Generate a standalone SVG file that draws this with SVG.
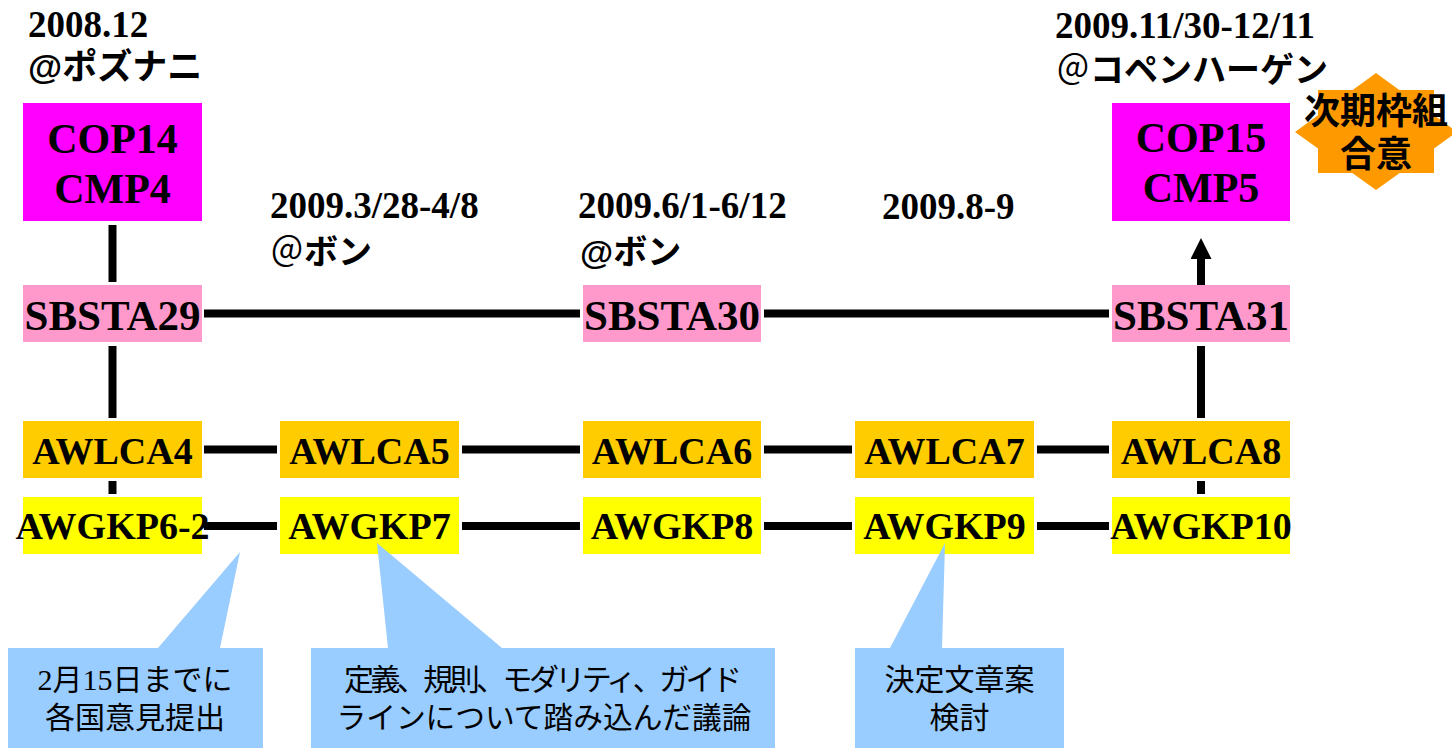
<svg xmlns="http://www.w3.org/2000/svg" width="1452" height="748" viewBox="0 0 1452 748">
<style>
.bg{fill:#ffffff}
.cop{fill:#ff00ff}
.sb{fill:#ff99cc}
.aw{fill:#ffcc00}
.kp{fill:#ffff00}
.co{fill:#99ccff}
.star{fill:#ff9900}
.ln{stroke:#000;stroke-width:8;fill:none}
.tn{font-family:"Liberation Serif","Times New Roman",serif;font-weight:bold;fill:#000;text-anchor:middle}
.dt{font-family:"Liberation Serif","Times New Roman",serif;font-weight:bold;font-size:37px;fill:#000}
.jp{font-family:"Liberation Sans","Noto Sans CJK JP",sans-serif;font-weight:bold;fill:#000}
.cj{font-family:"Liberation Serif","Noto Sans CJK JP",sans-serif;font-size:30px;fill:#000;text-anchor:middle}
.thin{font-weight:normal}
</style>
<defs>
<marker id="ah" viewBox="0 0 21 21" refX="0" refY="10.5" markerWidth="21" markerHeight="21" markerUnits="userSpaceOnUse" orient="auto">
<path d="M0,0 L21,10.5 L0,21 Z" fill="#000"/>
</marker>
</defs>
<rect class="bg" x="0" y="0" width="1452" height="748"/>

<g id="labels">
<text class="dt" x="28" y="37">2008.12</text>
<text class="jp" x="28" y="79" font-size="35">@ポズナニ</text>
<text class="dt" x="270" y="218">2009.3/28-4/8</text>
<text class="jp" x="270" y="264" font-size="34"><tspan class="thin">＠</tspan>ボン</text>
<text class="dt" x="578" y="218">2009.6/1-6/12</text>
<text class="jp" x="580" y="264" font-size="34">@ボン</text>
<text class="dt" x="882" y="219">2009.8-9</text>
<text class="dt" x="1055" y="38">2009.11/30-12/11</text>
<text class="jp" x="1056" y="82" font-size="34"><tspan class="thin">＠</tspan>コペンハーゲン</text>
</g>

<g id="connectors">
<line class="ln" x1="112.5" y1="225" x2="112.5" y2="282"/>
<line class="ln" x1="112.5" y1="346" x2="112.5" y2="418"/>
<line class="ln" x1="112.5" y1="481" x2="112.5" y2="494"/>
<line class="ln" x1="204" y1="313.5" x2="580" y2="313.5"/>
<line class="ln" x1="764" y1="313.5" x2="1109" y2="313.5"/>
<line class="ln" x1="204" y1="449.5" x2="277" y2="449.5"/>
<line class="ln" x1="462" y1="449.5" x2="580" y2="449.5"/>
<line class="ln" x1="764" y1="449.5" x2="852" y2="449.5"/>
<line class="ln" x1="1037" y1="449.5" x2="1109" y2="449.5"/>
<line class="ln" x1="204" y1="526" x2="277" y2="526"/>
<line class="ln" x1="462" y1="526" x2="580" y2="526"/>
<line class="ln" x1="764" y1="526" x2="852" y2="526"/>
<line class="ln" x1="1037" y1="526" x2="1109" y2="526"/>
<line class="ln" x1="1201" y1="481" x2="1201" y2="494"/>
<line class="ln" x1="1201" y1="346" x2="1201" y2="418"/>
<line class="ln" x1="1201" y1="285" x2="1201" y2="259" marker-end="url(#ah)"/>
</g>

<g id="cop14"><rect class="cop" x="23" y="103" width="179" height="118"/>
<text class="tn" x="112.5" y="153" font-size="42">COP14</text><text class="tn" x="112.5" y="203" font-size="42">CMP4</text></g>
<g id="cop15"><rect class="cop" x="1112" y="103" width="178" height="118"/>
<text class="tn" x="1201" y="152" font-size="42">COP15</text><text class="tn" x="1201" y="202" font-size="42">CMP5</text></g>

<g id="star">
<polygon class="star" points="1376,73 1399.3,90 1434,90 1434,115.2 1457,132 1434,148.5 1434,173 1399.7,173 1376,190 1352.3,173 1318,173 1318,148.5 1295,132 1318,115.2 1318,90 1352.7,90"/>
<text class="jp" x="1376" y="124" font-size="36" text-anchor="middle">次期枠組</text>
<text class="jp" x="1376" y="167" font-size="36" text-anchor="middle">合意</text>
</g>

<g id="sbsta29"><rect class="sb" x="23" y="285" width="179" height="57"/><text class="tn" x="112.5" y="330" font-size="43">SBSTA29</text></g>
<g id="sbsta30"><rect class="sb" x="583" y="285" width="178" height="57"/><text class="tn" x="672" y="330" font-size="43">SBSTA30</text></g>
<g id="sbsta31"><rect class="sb" x="1112" y="285" width="178" height="57"/><text class="tn" x="1201" y="330" font-size="43">SBSTA31</text></g>

<g id="awlca4"><rect class="aw" x="23" y="421" width="179" height="57"/><text class="tn" x="112.5" y="464" font-size="38">AWLCA4</text></g>
<g id="awlca5"><rect class="aw" x="280" y="421" width="179" height="57"/><text class="tn" x="369.5" y="464" font-size="38">AWLCA5</text></g>
<g id="awlca6"><rect class="aw" x="583" y="421" width="178" height="57"/><text class="tn" x="672" y="464" font-size="38">AWLCA6</text></g>
<g id="awlca7"><rect class="aw" x="855" y="421" width="179" height="57"/><text class="tn" x="944.5" y="464" font-size="38">AWLCA7</text></g>
<g id="awlca8"><rect class="aw" x="1112" y="421" width="178" height="57"/><text class="tn" x="1201" y="464" font-size="38">AWLCA8</text></g>

<g id="awgkp6-2"><rect class="kp" x="23" y="497" width="179" height="57"/><text class="tn" x="112.5" y="539" font-size="38">AWGKP6-2</text></g>
<g id="awgkp7"><rect class="kp" x="280" y="497" width="179" height="57"/><text class="tn" x="369.5" y="539" font-size="38">AWGKP7</text></g>
<g id="awgkp8"><rect class="kp" x="583" y="497" width="178" height="57"/><text class="tn" x="672" y="539" font-size="38">AWGKP8</text></g>
<g id="awgkp9"><rect class="kp" x="855" y="497" width="179" height="57"/><text class="tn" x="944.5" y="539" font-size="38">AWGKP9</text></g>
<g id="awgkp10"><rect class="kp" x="1112" y="497" width="178" height="57"/><text class="tn" x="1201" y="539" font-size="38">AWGKP10</text></g>

<g id="callout1">
<path class="co" d="M8,648 L158,648 L240,552 L220,648 L263,648 L263,748 L8,748 Z"/>
<text class="cj" x="135" y="690">2月15日までに</text>
<text class="cj" x="135" y="728">各国意見提出</text>
</g>
<g id="callout2">
<path class="co" d="M311,648 L388,648 L377,543 L502,648 L775,648 L775,748 L311,748 Z"/>
<text class="cj" x="543" y="690" textLength="398" lengthAdjust="spacing">定義、規則、モダリティ、ガイド</text>
<text class="cj" x="544" y="728" textLength="415" lengthAdjust="spacingAndGlyphs">ラインについて踏み込んだ議論</text>
</g>
<g id="callout3">
<path class="co" d="M855,648 L890,648 L945,543 L942,648 L1064,648 L1064,748 L855,748 Z"/>
<text class="cj" x="959.5" y="690">決定文章案</text>
<text class="cj" x="959.5" y="728">検討</text>
</g>
</svg>
